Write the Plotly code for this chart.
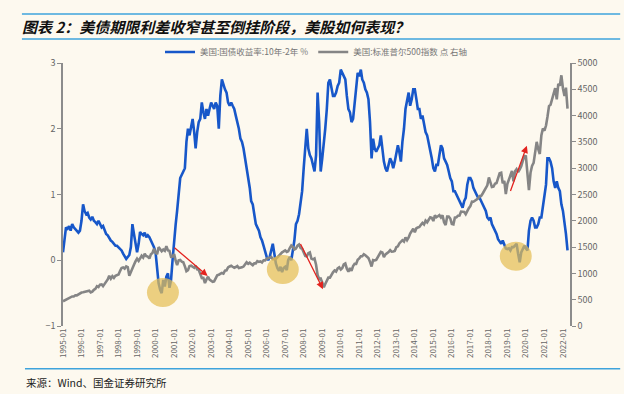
import pandas as pd
import plotly.graph_objects as go

# ---- data (monthly) ----
months = pd.date_range("1995-01-01", "2022-04-01", freq="MS")

spread_10y_2y = [
    0.12, 0.35, 0.50, 0.48, 0.52, 0.45, 0.55, 0.50, 0.47, 0.44, 0.42, 0.45,   # 1995
    0.60, 0.85, 0.75, 0.70, 0.72, 0.65, 0.62, 0.66, 0.60, 0.58, 0.55, 0.60,   # 1996
    0.55, 0.50, 0.52, 0.45, 0.40, 0.38, 0.33, 0.30, 0.28, 0.25, 0.22, 0.22,   # 1997
    0.20, 0.18, 0.15, 0.10, 0.05, 0.02, 0.05, 0.08, 0.20, 0.55, 0.40, 0.25,   # 1998
    0.12, 0.25, 0.43, 0.40, 0.38, 0.42, 0.35, 0.38, 0.35, 0.30, 0.25, 0.20,   # 1999
    0.12, -0.10, -0.35, -0.45, -0.50, -0.30, -0.40, -0.25, -0.20, -0.42, -0.30, 0.00,  # 2000
    0.35, 0.55, 0.75, 1.00, 1.25, 1.30, 1.35, 1.40, 1.80, 2.00, 1.90, 2.05,   # 2001
    2.15, 1.95, 1.70, 1.95, 2.10, 2.15, 2.40, 2.25, 2.15, 2.30, 2.20, 2.30,   # 2002
    2.40, 2.35, 2.30, 2.40, 2.35, 2.00, 2.50, 2.75, 2.65, 2.60, 2.55, 2.40,   # 2003
    2.35, 2.40, 2.35, 2.30, 2.20, 2.10, 2.00, 1.85, 1.80, 1.70, 1.55, 1.45,   # 2004
    1.25, 1.10, 0.90, 0.85, 0.70, 0.55, 0.50, 0.45, 0.35, 0.30, 0.22, 0.12,   # 2005
    0.05, 0.00, 0.05, 0.15, 0.25, 0.10, -0.05, -0.12, -0.16, -0.10, -0.18, -0.12,  # 2006
    -0.10, -0.15, 0.00, 0.05, 0.00, 0.15, 0.30, 0.55, 0.60, 0.70, 0.85, 1.05,  # 2007
    1.40, 1.80, 2.00, 1.70, 1.60, 1.55, 1.45, 1.35, 1.60, 2.55, 2.10, 1.35,   # 2008
    1.55, 1.75, 2.00, 2.30, 2.70, 2.75, 2.60, 2.50, 2.50, 2.55, 2.65, 2.70,   # 2009
    2.90, 2.85, 2.80, 2.75, 2.50, 2.30, 2.25, 2.10, 2.15, 2.35, 2.60, 2.85,   # 2010
    2.80, 2.90, 2.75, 2.70, 2.60, 2.55, 2.45, 2.10, 1.55, 1.85, 1.70, 1.65,   # 2011
    1.70, 1.75, 1.90, 1.70, 1.50, 1.40, 1.35, 1.45, 1.55, 1.50, 1.40, 1.50,   # 2012
    1.65, 1.75, 1.65, 1.50, 1.80, 2.00, 2.30, 2.45, 2.55, 2.35, 2.45, 2.60,   # 2013
    2.60, 2.45, 2.30, 2.30, 2.15, 2.20, 2.05, 1.95, 1.90, 1.80, 1.70, 1.55,   # 2014
    1.40, 1.35, 1.45, 1.45, 1.60, 1.75, 1.70, 1.55, 1.50, 1.45, 1.35, 1.25,   # 2015
    1.20, 1.05, 1.05, 1.00, 0.95, 0.90, 0.85, 0.80, 0.90, 0.95, 1.15, 1.25,   # 2016
    1.25, 1.20, 1.10, 1.05, 1.00, 0.95, 0.95, 0.90, 0.85, 0.80, 0.75, 0.65,   # 2017
    0.62, 0.65, 0.55, 0.50, 0.45, 0.40, 0.32, 0.28, 0.25, 0.30, 0.25, 0.18,   # 2018
    0.17, 0.18, 0.15, 0.20, 0.20, 0.22, 0.25, 0.10, -0.03, 0.12, 0.18, 0.22,  # 2019
    0.18, 0.15, 0.45, 0.60, 0.65, 0.60, 0.50, 0.50, 0.55, 0.65, 0.65, 0.80,   # 2020
    0.95, 1.15, 1.55, 1.55, 1.50, 1.40, 1.20, 1.10, 1.20, 1.10, 1.05, 0.85,   # 2021
    0.75, 0.60, 0.40, 0.15,                                                   # 2022
]

sp500 = [
    470, 487, 500, 514, 533, 545, 562, 562, 584, 582, 605, 615,
    636, 640, 645, 654, 669, 671, 640, 652, 687, 705, 757, 740,
    786, 790, 757, 801, 848, 885, 954, 899, 947, 915, 955, 970,
    980, 1049, 1102, 1112, 1091, 1134, 1121, 957, 1017, 1099, 1164, 1229,
    1280, 1238, 1286, 1335, 1302, 1373, 1329, 1320, 1283, 1363, 1389, 1469,
    1394, 1366, 1499, 1452, 1421, 1455, 1431, 1518, 1437, 1429, 1315, 1320,
    1366, 1240, 1160, 1249, 1256, 1224, 1211, 1134, 1041, 1060, 1139, 1148,
    1130, 1107, 1147, 1077, 1067, 990, 912, 916, 815, 886, 936, 880,
    856, 841, 848, 917, 964, 975, 990, 1008, 996, 1051, 1058, 1112,
    1131, 1145, 1126, 1107, 1121, 1141, 1102, 1104, 1115, 1130, 1174, 1212,
    1181, 1204, 1181, 1157, 1192, 1191, 1234, 1220, 1229, 1207, 1249, 1248,
    1280, 1281, 1295, 1311, 1270, 1270, 1277, 1304, 1336, 1378, 1401, 1418,
    1438, 1407, 1421, 1482, 1531, 1503, 1455, 1474, 1527, 1549, 1481, 1468,
    1378, 1331, 1323, 1386, 1400, 1280, 1267, 1283, 1165, 969, 896, 903,
    826, 735, 798, 873, 919, 919, 987, 1021, 1057, 1036, 1096, 1115,
    1074, 1104, 1169, 1187, 1089, 1031, 1102, 1049, 1141, 1183, 1181, 1258,
    1286, 1327, 1326, 1364, 1345, 1321, 1292, 1219, 1131, 1253, 1247, 1258,
    1312, 1366, 1408, 1398, 1310, 1362, 1379, 1406, 1441, 1412, 1416, 1426,
    1498, 1515, 1569, 1598, 1631, 1606, 1686, 1633, 1682, 1757, 1806, 1848,
    1783, 1859, 1872, 1884, 1924, 1960, 1931, 2003, 1972, 2018, 2068, 2059,
    1995, 2105, 2068, 2086, 2107, 2063, 2104, 1972, 1920, 2079, 2080, 2044,
    1940, 1932, 2060, 2065, 2097, 2099, 2174, 2171, 2168, 2126, 2199, 2239,
    2279, 2364, 2363, 2384, 2412, 2423, 2470, 2472, 2519, 2575, 2648, 2674,
    2824, 2714, 2641, 2648, 2705, 2718, 2816, 2902, 2914, 2711, 2760, 2507,
    2704, 2784, 2834, 2946, 2752, 2942, 2980, 2926, 2977, 3038, 3141, 3231,
    3226, 2954, 2585, 2912, 3044, 3100, 3271, 3500, 3363, 3270, 3622, 3756,
    3714, 3811, 3973, 4181, 4204, 4298, 4395, 4523, 4308, 4605, 4567, 4766,
    4516, 4374, 4530, 4132,
]

tick_dates = pd.date_range("1995-01-01", "2022-01-01", freq="YS")
tick_labels = [d.strftime("%Y-%m") for d in tick_dates]

# highlight ellipses (center date, center value)
circle_centers = [("2000-05-25", -0.49), ("2006-11-15", -0.14), ("2019-06-15", 0.06)]
# arrows: (tail date, tail value, head date, head value)
arrows = [
    ("2000-12-10", 0.21, "2002-10-25", -0.24),
    ("2007-10-15", 0.27, "2009-01-15", -0.44),
    ("2019-02-20", 1.03, "2020-01-20", 1.74),
]

spread_name = "美国:国债收益率:10年-2年 %"
sp_name = "美国:标准普尔500指数 点 右轴"

BLUE = "#1757c9"
GRAY = "#858585"
BG = "#fdf9ef"
AXIS = "#8c8c8c"
FONT = "Noto Sans CJK SC"

fig = go.Figure()
fig.add_trace(go.Scatter(x=months, y=spread_10y_2y, name=spread_name, mode="lines",
                         line=dict(color=BLUE, width=2.6), yaxis="y"))
fig.add_trace(go.Scatter(x=months, y=sp500, name=sp_name, mode="lines",
                         line=dict(color=GRAY, width=2.6), yaxis="y2"))

shapes = []
for d, v in circle_centers:
    c = pd.Timestamp(d)
    half = pd.Timedelta(days=315)
    shapes.append(dict(type="circle", xref="x", yref="y",
                       x0=c - half, x1=c + half, y0=v - 0.22, y1=v + 0.22,
                       fillcolor="rgba(228,190,85,0.72)", line=dict(width=0), layer="above"))

# decorative frame lines (title band and footer)
shapes += [
    dict(type="line", xref="paper", yref="paper", x0=-0.081, x1=1.099, y0=1.186, y1=1.186,
         line=dict(color="#3ea3dc", width=1.5)),
    dict(type="line", xref="paper", yref="paper", x0=-0.081, x1=1.099, y0=1.091, y1=1.091,
         line=dict(color="#3ea3dc", width=1.5)),
    dict(type="line", xref="paper", yref="paper", x0=-0.075, x1=1.099, y0=-0.163, y1=-0.163,
         line=dict(color="#3ea3dc", width=1.5)),
]

annotations = []
for (t_d, t_v, h_d, h_v) in arrows:
    annotations.append(dict(x=pd.Timestamp(h_d), y=h_v, ax=pd.Timestamp(t_d), ay=t_v,
                            xref="x", yref="y", axref="x", ayref="y", text="",
                            showarrow=True, arrowhead=2, arrowsize=1.1, arrowwidth=1.3,
                            arrowcolor="#e3231f"))
annotations.append(dict(text="<b><i>图表 2：美债期限利差收窄甚至倒挂阶段，美股如何表现？</i></b>",
                        xref="paper", yref="paper", x=-0.085, y=1.138,
                        xanchor="left", yanchor="middle", showarrow=False,
                        font=dict(family=FONT, size=15, color="#111111")))
annotations.append(dict(text="来源：Wind、国金证券研究所", xref="paper", yref="paper",
                        x=-0.076, y=-0.213, xanchor="left", yanchor="middle", showarrow=False,
                        font=dict(family=FONT, size=10.5, color="#222222")))

x_range = [pd.Timestamp("1995-01-01"), pd.Timestamp("2022-05-20")]

fig.update_layout(
    width=624, height=394,
    margin=dict(l=63, r=54, t=63, b=68, autoexpand=False),
    paper_bgcolor=BG, plot_bgcolor=BG,
    font=dict(family=FONT, color="#666666", size=9),
    showlegend=True,
    legend=dict(orientation="h", x=0.5, xanchor="center", y=1.042, yanchor="middle",
                bgcolor="rgba(0,0,0,0)", font=dict(size=8.5, color="#777777"),
                itemwidth=30, tracegroupgap=0),
    xaxis=dict(range=x_range, tickvals=tick_dates, ticktext=tick_labels, tickangle=-90,
               showline=False, ticks="", showgrid=False, zeroline=False, automargin=False,
               tickfont=dict(size=8, color="#666666")),
    xaxis2=dict(range=x_range, overlaying="x", anchor="free", position=0.25,
                tickvals=tick_dates, showticklabels=False, showline=True, linecolor="#a5a5a5",
                linewidth=1, ticks="outside", ticklen=3, tickcolor="#a5a5a5", showgrid=False,
                zeroline=False),
    yaxis=dict(range=[-1, 3], tickvals=[-1, 0, 1, 2, 3], showline=True, linecolor=AXIS,
               linewidth=1.5, ticks="outside", ticklen=4, tickcolor=AXIS, showgrid=False,
               zeroline=False, automargin=False, tickfont=dict(size=9, color="#666666")),
    yaxis2=dict(range=[0, 5000], tickvals=list(range(0, 5001, 500)), overlaying="y", side="right",
                showline=True, linecolor=AXIS, linewidth=1.5, ticks="outside", ticklen=4,
                tickcolor=AXIS, showgrid=False, zeroline=False, automargin=False,
                tickfont=dict(size=9, color="#666666")),
    shapes=shapes,
    annotations=annotations,
)

fig.write_html("out.html", config={"displayModeBar": False},
               post_script="document.body.style.margin='0';document.body.style.background='%s';" % BG)
